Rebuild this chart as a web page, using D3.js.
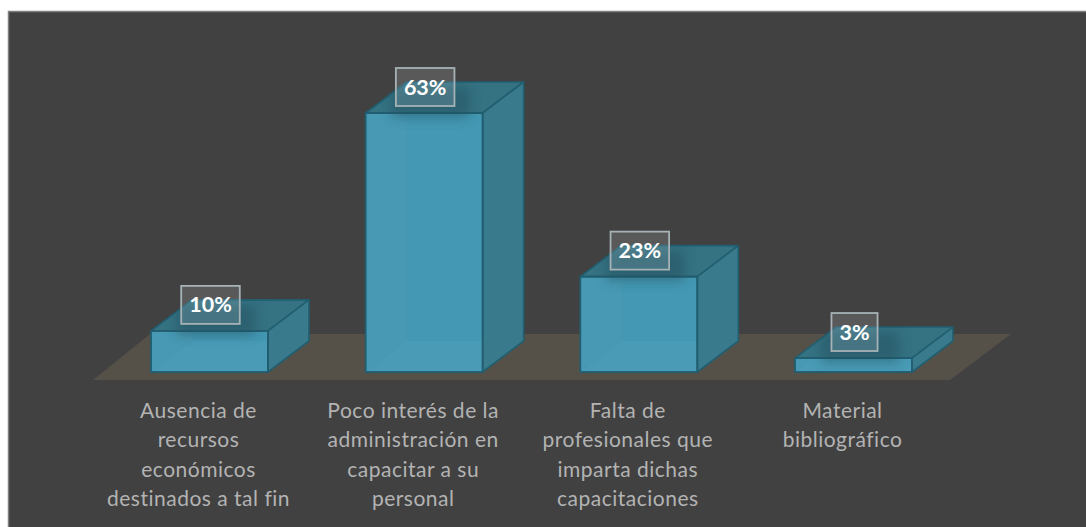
<!DOCTYPE html>
<html><head><meta charset="utf-8">
<script src="https://cdn.jsdelivr.net/npm/d3@7"></script>
<style>html,body{margin:0;padding:0;background:#fff;overflow:hidden}svg{display:block}</style>
</head><body><svg id="c" width="1086" height="527"></svg>
<script>
const categories = ["Ausencia de recursos económicos destinados a tal fin","Poco interés de la administración en capacitar a su personal","Falta de profesionales que imparta dichas capacitaciones","Material bibliográfico"];
const categoryLines = [["Ausencia de","recursos","económicos","destinados a tal fin"],["Poco interés de la","administración en","capacitar a su","personal"],["Falta de","profesionales que","imparta dichas","capacitaciones"],["Material","bibliográfico"]];
const values = [10,63,23.2,3.4];

const svg = d3.select("#c");
const W=1086,H=527,depthX=41,depthY=31,base=372;
const x = d3.scaleBand().domain(categories).range([151,912]).paddingInner(0.455).paddingOuter(0);
const y = d3.scaleLinear().domain([0,63]).range([base,113]);
const font = "Lato, Carlito, Calibri, sans-serif";

const defs = svg.append("defs");
defs.append("filter").attr("id","blur").attr("x","-50%").attr("y","-50%").attr("width","200%").attr("height","200%")
  .append("feGaussianBlur").attr("stdDeviation",6);

svg.append("rect").attr("x",8.5).attr("y",11.5).attr("width",W+10).attr("height",H+10)
  .attr("fill","#414141").attr("stroke","#808080").attr("stroke-width",1.5);

// floor
svg.append("path").attr("d",d3.line()([[93,380],[150,334],[1011,334],[950,380]])+"Z").attr("fill","#555149");

const line=d3.line();
const stroke="#215e70";
categories.forEach((c,i)=>{
  const x0=x(c),x1=x0+x.bandwidth(),t=y(values[i]),b=y(0),dx=depthX,dy=depthY;
  const g=svg.append("g");
  defs.append("clipPath").attr("id","clip"+i).append("path")
    .attr("d",line([[x0,b],[x0,t],[x0+dx,t-dy],[x1+dx,t-dy],[x1+dx,b-dy],[x1,b]])+"Z");
  // front with faint hidden faces seen through it
  g.append("rect").attr("x",x0).attr("y",t).attr("width",x.bandwidth()).attr("height",b-t).attr("fill","#4899b4");
  g.append("path").attr("d",line([[x0+dx,t],[x1,t],[x1,b],[x0,b],[x0+dx,b-dy]])+"Z").attr("fill","#4498b3");
  g.append("path").attr("d",line([[x0,b],[x0+dx,b-dy],[x1,b-dy],[x1,b]])+"Z").attr("fill","#499bb6");
  // top
  g.append("path").attr("d",line([[x0,t],[x0+dx,t-dy],[x1+dx,t-dy],[x1,t]])+"Z").attr("fill","#357282").attr("stroke",stroke).attr("stroke-width",1.6).attr("stroke-linejoin","round");
  // side
  g.append("path").attr("d",line([[x1,t],[x1+dx,t-dy],[x1+dx,b-dy],[x1,b]])+"Z").attr("fill","#3a7a8d").attr("stroke",stroke).attr("stroke-width",1.6).attr("stroke-linejoin","round");
  // front outline
  g.append("rect").attr("x",x0).attr("y",t).attr("width",x.bandwidth()).attr("height",b-t)
    .attr("fill","none").attr("stroke",stroke).attr("stroke-width",1.8);
  // soft shadow of the label, only on the bar
  g.append("g").attr("clip-path",`url(#clip${i})`).append("rect")
    .attr("x",x0+26).attr("y",t-26).attr("width",78).attr("height",30)
    .attr("fill","#24505e").attr("opacity",0.5).attr("filter","url(#blur)");
});

// data labels
const lowestLabelY=337;
categories.forEach((c,i)=>{
  const cx=x(c)+x.bandwidth()/2+1, cy=Math.min(y(values[i])-26,lowestLabelY);
  const g=svg.append("g");
  const r=g.append("rect");
  const t=g.append("text").attr("x",cx).attr("y",cy).attr("dy","0.35em").attr("text-anchor","middle")
    .attr("fill","#fff").attr("font-family",font).attr("font-weight",700).attr("font-size",21.5)
    .text(Math.round(values[i])+"%");
  const w=t.node().getComputedTextLength()+16;
  r.attr("x",cx-w/2).attr("y",cy-19).attr("width",w).attr("height",38)
    .attr("fill","#ffffff").attr("fill-opacity",0.13).attr("stroke","#a6b2b5").attr("stroke-width",1.8);
});

// category axis
const axis=svg.append("g").attr("transform","translate(-11,385)")
  .call(d3.axisBottom(x).tickSize(0).tickPadding(0));
axis.select(".domain").remove();
axis.selectAll(".tick text").each(function(c,i){
  const s=d3.select(this).text(null).attr("y",0).attr("dy",null)
    .attr("fill","#b3b3b3").attr("font-family",font).attr("font-size",21).attr("letter-spacing",0.5).attr("text-anchor","middle");
  categoryLines[i].forEach((l,k)=>s.append("tspan").attr("x",0).attr("y",33+k*29.3).text(l));
});
</script></body></html>
